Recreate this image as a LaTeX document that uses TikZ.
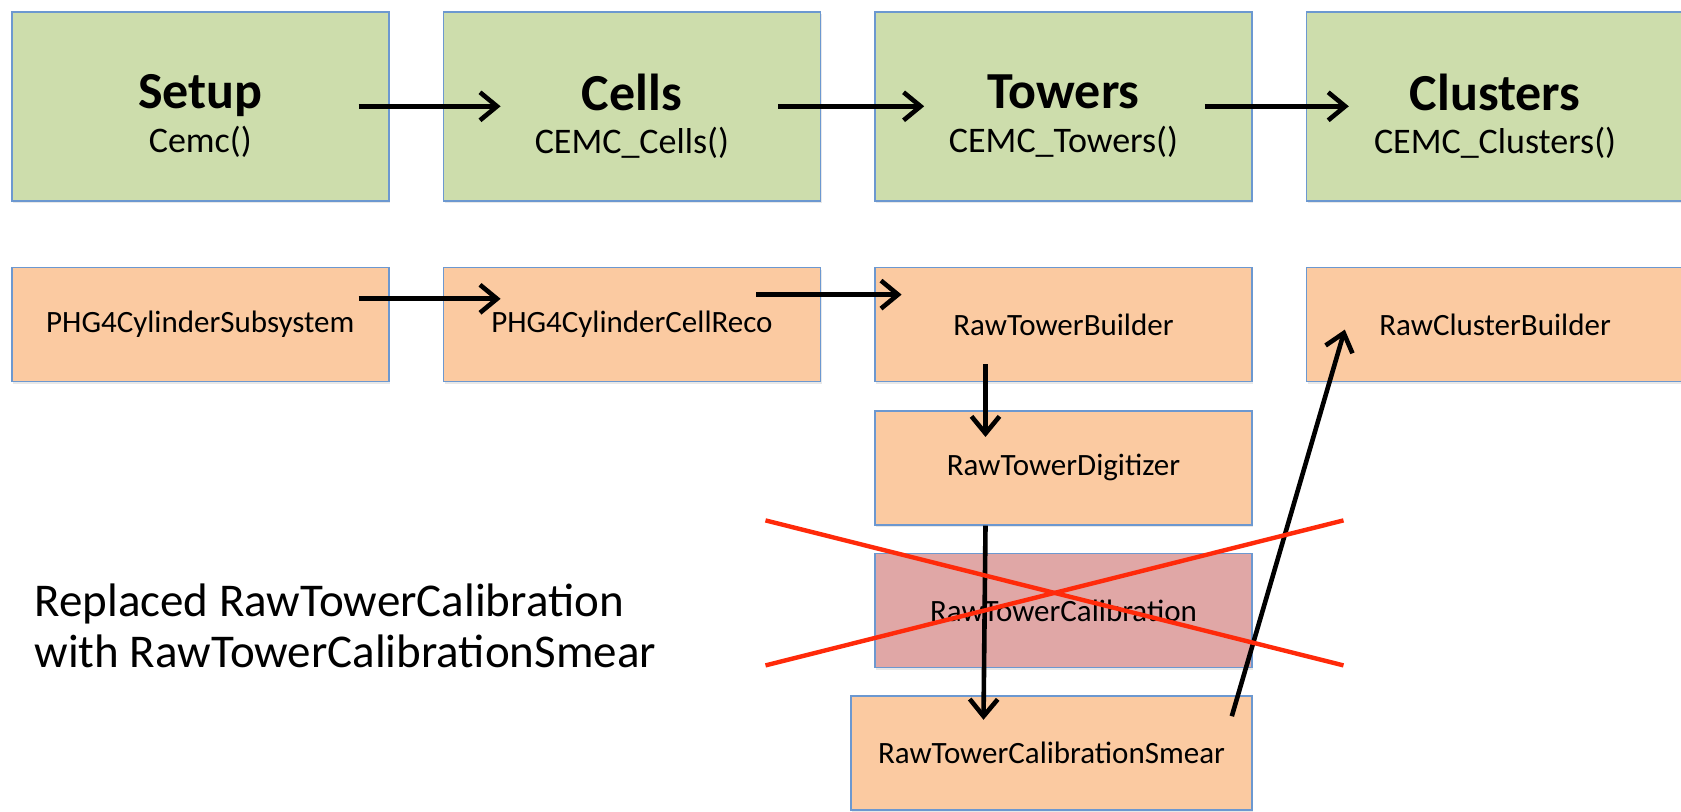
\documentclass[tikz,border=0pt]{standalone}
\usepackage{fontspec}
\setmainfont{Carlito}
\usetikzlibrary{arrows.meta,positioning,shadows}
\definecolor{boxline}{HTML}{6C98D0}
\definecolor{stagefill}{HTML}{CDDDAC}
\definecolor{modfill}{HTML}{FBCAA1}
\definecolor{dropfill}{HTML}{E0A7A6}
\definecolor{crossred}{HTML}{FF2A0A}
\newcommand{\stagetext}[2]{\raisebox{-5.5pt}[\height][\depth]{\begin{tabular}{@{}c@{}}%
  {\fontsize{26}{28}\selectfont\bfseries #1}\\[5pt]%
  {\fontsize{18}{21}\selectfont #2}\end{tabular}}}

\begin{document}
\begin{tikzpicture}[x=0.5pt,y=-0.5pt]
  \tikzset{
    box/.style={draw=boxline,line width=0.8pt,inner sep=0pt,
      drop shadow={shadow xshift=0.6pt,shadow yshift=-1.2pt,opacity=0.18}},
    stage/.style={box,fill=stagefill,minimum width=188.5pt,minimum height=94.5pt},
    module/.style={box,fill=modfill,minimum width=188.5pt,minimum height=57pt,
      font=\fontsize{15.5}{18}\selectfont},
    flow/.style={-{Straight Barb[length=8.5pt,width=14pt]},line width=2.3pt},
    cross/.style={crossred,line width=2.2pt},
  }
  \useasboundingbox (0,0) rectangle (1681,812);

  \node [stage,anchor=north west] (setup) at (11,11) {\stagetext{Setup}{Cemc()}};
  \node [stage] (cells)    [right=26.5pt of setup]  {\stagetext{Cells}{CEMC\_Cells()}};
  \node [stage] (towers)   [right=26.5pt of cells]  {\stagetext{Towers}{CEMC\_Towers()}};
  \node [stage] (clusters) [right=26.5pt of towers] {\stagetext{Clusters}{CEMC\_Clusters()}};

  \node [module] (g4sub)      [below=32.6pt of setup]    {PHG4CylinderSubsystem};
  \node [module] (cellreco)   [right=26.5pt of g4sub]    {PHG4CylinderCellReco};
  \node [module] (builder)    [right=26.5pt of cellreco] {RawTowerBuilder};
  \node [module] (clbuilder)  [right=26.5pt of builder]  {RawClusterBuilder};
  \node [module] (digitizer)  [below=13.8pt of builder]  {RawTowerDigitizer};
  \node [module,fill=dropfill] (calib) [below=13.5pt of digitizer] {RawTowerCalibration};
  \node [module,minimum width=200.5pt,anchor=north east] (smear)
    at ([yshift=-13.5pt]calib.south east) {RawTowerCalibrationSmear};

  \node [anchor=west,align=left,font=\fontsize{23.5}{25.7}\selectfont] (note) at (27.5,626)
    {Replaced RawTowerCalibration\\with RawTowerCalibrationSmear};

  \draw [flow] ([xshift=-15.5pt]setup.east)  -- ([xshift=29pt]cells.west);
  \draw [flow] ([xshift=-21.5pt]cells.east)  -- ([xshift=25pt]towers.west);
  \draw [flow] ([xshift=-24pt]towers.east)   -- ([xshift=21.5pt]clusters.west);
  \draw [flow] ([xshift=-15.5pt,yshift=12.9pt]g4sub.east) -- ([xshift=29pt,yshift=12.9pt]cellreco.west);
  \draw [flow] ([xshift=-32.5pt,yshift=15pt]cellreco.east) -- ([xshift=13.7pt,yshift=15pt]builder.west);
  \draw [flow] ([xshift=-39pt,yshift=9pt]builder.south) -- ([xshift=-39pt,yshift=-13.5pt]digitizer.north);
  \draw [flow] ([xshift=-39pt]digitizer.south) -- ([xshift=-34pt,yshift=-12.3pt]smear.north);
  \draw [flow] ([xshift=-10.5pt,yshift=-10.5pt]smear.north east) -- ([xshift=19.5pt,yshift=-2.5pt]clbuilder.west);

  \draw [cross] ([xshift=-149pt,yshift=45pt]calib.center) -- ([xshift=140pt,yshift=-27.5pt]calib.center);
  \draw [cross] ([xshift=-149pt,yshift=-27.5pt]calib.center) -- ([xshift=140pt,yshift=45pt]calib.center);
\end{tikzpicture}
\end{document}
